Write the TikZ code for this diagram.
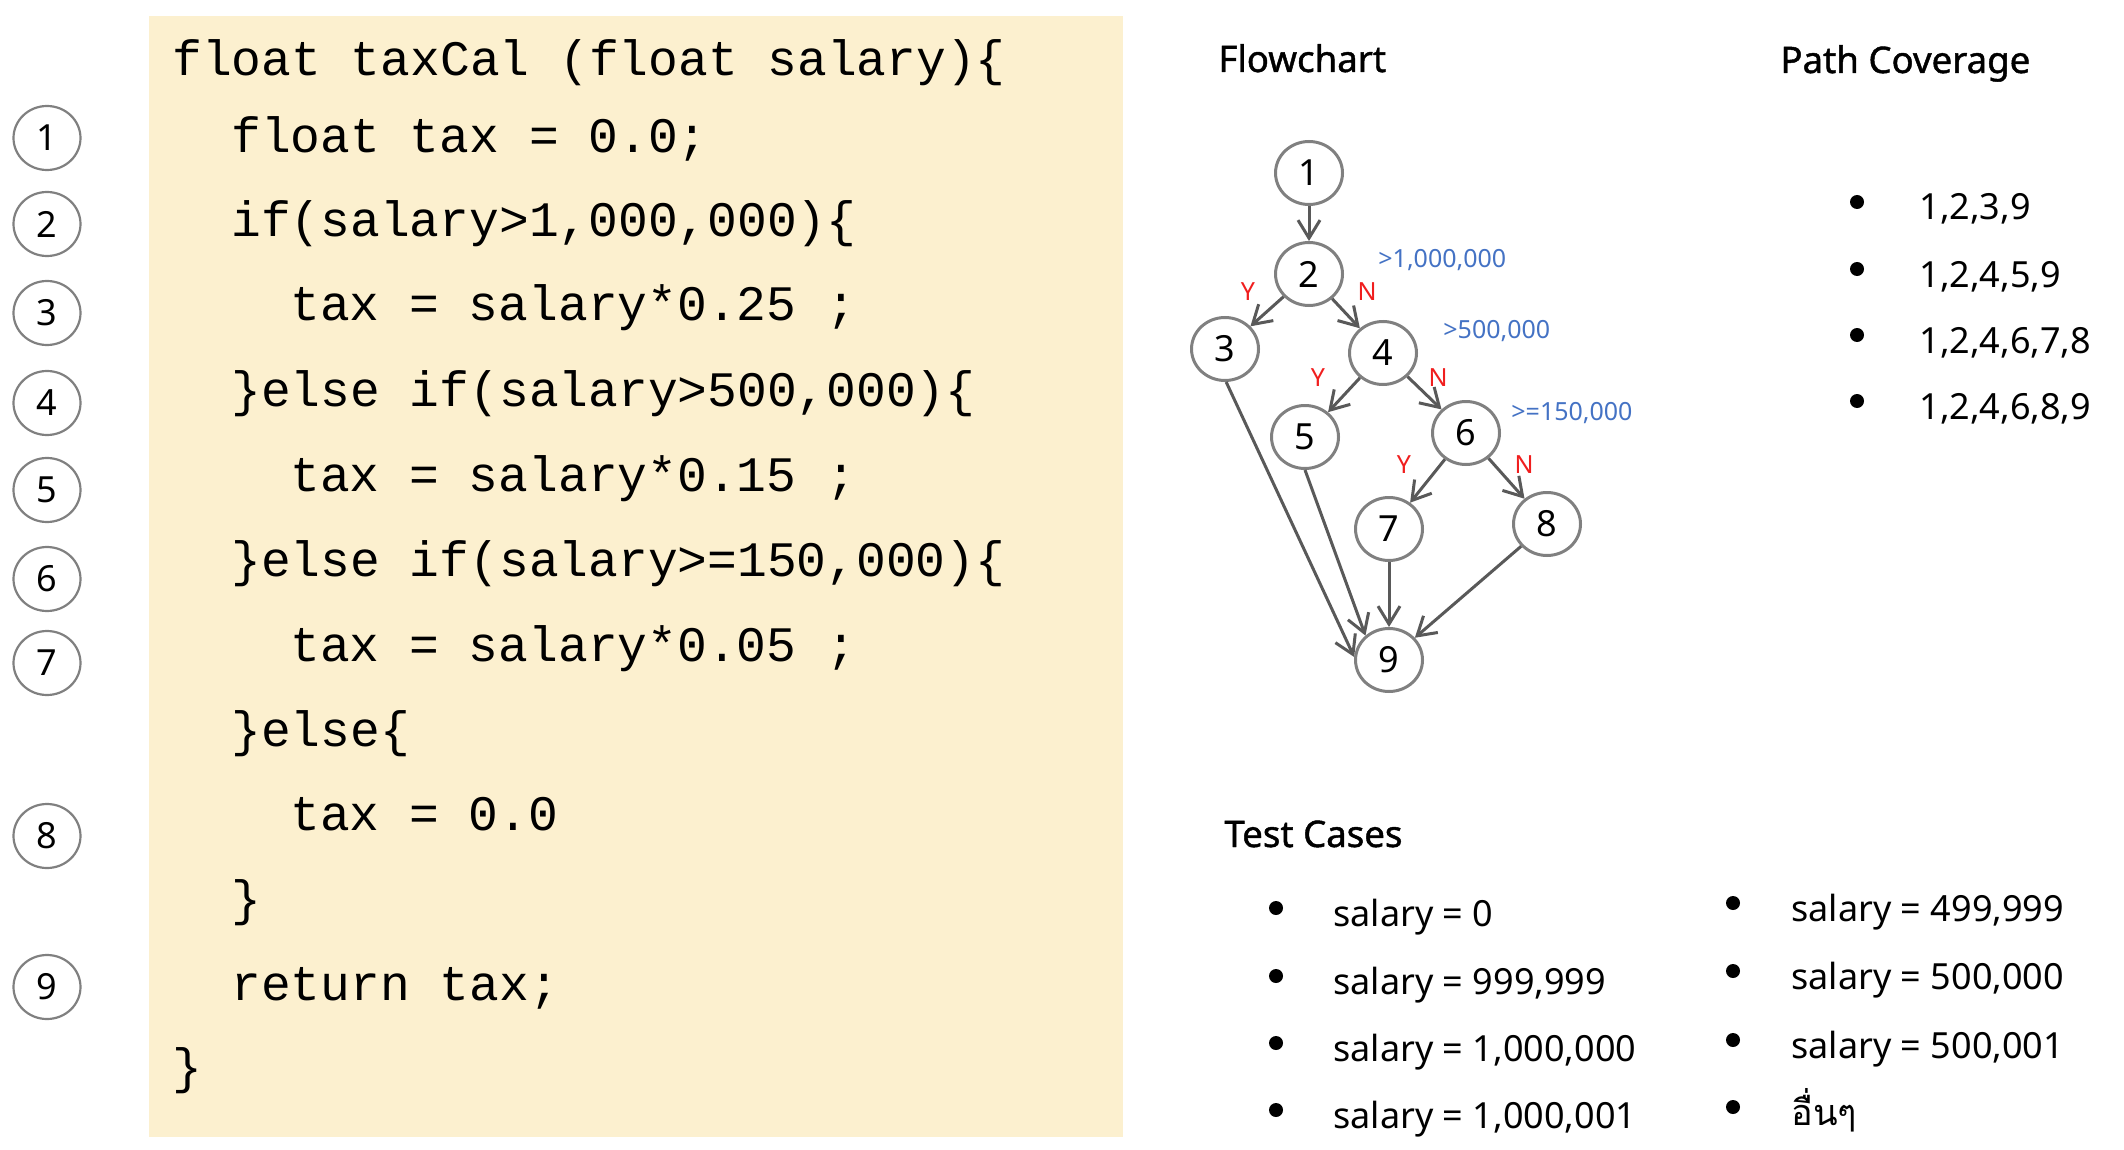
\documentclass[tikz,border=0pt]{standalone}
\usepackage{fontspec}
\setmainfont{Noto Sans}
\newfontfamily\codefont{Liberation Mono}
\newfontfamily\titlefont[FakeBold=1.2]{Noto Sans}
\newfontfamily\thaifont[Script=Thai]{Loma}
\usetikzlibrary{arrows.meta,shapes.geometric}
\definecolor{codebg}{RGB}{252,240,207}
\definecolor{nodegray}{RGB}{128,128,128}
\definecolor{arrowgray}{RGB}{89,89,89}
\definecolor{lblblue}{RGB}{68,114,196}
\definecolor{lblred}{RGB}{240,30,30}
\tikzset{
  codeline/.style={anchor=base west, inner sep=0pt, font=\codefont\fontsize{24.8pt}{24.8pt}\selectfont},
  numcirc/.style={ellipse, draw=nodegray, line width=1.1pt, minimum width=33.5pt, minimum height=32pt, inner sep=0pt, font=\fontsize{18pt}{18pt}\selectfont},
  fcnode/.style={ellipse, draw=nodegray, line width=1.5pt, minimum width=33.5pt, minimum height=31.5pt, inner sep=0pt, font=\fontsize{18pt}{18pt}\selectfont},
  flow/.style={draw=arrowgray, line width=1.5pt, -{Straight Barb[length=9pt,width=11pt]}},
  yn/.style={text=lblred, inner sep=0pt, font=\fontsize{12.5pt}{12.5pt}\selectfont},
  cond/.style={text=lblblue, anchor=base west, inner sep=0pt, font=\fontsize{12.5pt}{12.5pt}\selectfont},
  title/.style={anchor=base west, inner sep=0pt, font=\titlefont\fontsize{18.3pt}{18.3pt}\selectfont},
  item/.style={anchor=base west, inner sep=0pt, font=\fontsize{18pt}{18pt}\selectfont},
  bul/.style={circle, fill=black, minimum size=7pt, inner sep=0pt}
}
\begin{document}
\begin{tikzpicture}[x=0.5pt,y=-0.5pt]
\useasboundingbox (0,0) rectangle (2124,1150);
% code box
\fill[codebg] (149,16) rectangle (1123,1137);
\node[codeline] (l1) at (172,76) {float taxCal (float salary)\{};
\node[codeline] (l2) at (231,153) {float tax = 0.0;};
\node[codeline] (l3) at (231,237) {if(salary>1,000,000)\{};
\node[codeline] (l4) at (290,321) {tax = salary*0.25 ;};
\node[codeline] (l5) at (231,406) {\}else if(salary>500,000)\{};
\node[codeline] (l6) at (290,491) {tax = salary*0.15 ;};
\node[codeline] (l7) at (231,576) {\}else if(salary>=150,000)\{};
\node[codeline] (l8) at (290,661) {tax = salary*0.05 ;};
\node[codeline] (l9) at (231,746) {\}else\{};
\node[codeline] (l10) at (290,830) {tax = 0.0};
\node[codeline] (l11) at (231,915) {\}};
\node[codeline] (l12) at (231,1000) {return tax;};
\node[codeline] (l13) at (172,1083) {\}};
% line number circles
\node[numcirc] (c1) at (47,138) {1};
\node[numcirc] (c2) at (47,224) {2};
\node[numcirc] (c3) at (47,313) {3};
\node[numcirc] (c4) at (47,403) {4};
\node[numcirc] (c5) at (47,490) {5};
\node[numcirc] (c6) at (47,579) {6};
\node[numcirc] (c7) at (47,663) {7};
\node[numcirc] (c8) at (47,836) {8};
\node[numcirc] (c9) at (47,987) {9};
% titles
\node[title] (tflow) at (1218,72) {Flowchart};
\node[title] (tpath) at (1780,73) {Path Coverage};
\node[title] (ttest) at (1224,847) {Test Cases};
% flowchart
\node[fcnode] (n1) at (1309,173) {1};
\node[fcnode] (n2) at (1309,274) {2};
\node[fcnode] (n3) at (1225,349) {3};
\node[fcnode] (n4) at (1383,353) {4};
\node[fcnode] (n5) at (1305,437) {5};
\node[fcnode] (n6) at (1466,433) {6};
\node[fcnode] (n7) at (1389,529) {7};
\node[fcnode] (n8) at (1547,524) {8};
\node[fcnode] (n9) at (1389,660) {9};
\draw[flow] (n1) -- (n2);
\draw[flow] (n2) -- (n3);
\draw[flow] (n2) -- (n4);
\draw[flow] (n4) -- (n5);
\draw[flow] (n4) -- (n6);
\draw[flow] (n6) -- (n7);
\draw[flow] (n6) -- (n8);
\draw[flow] (n3.-88) -- (n9.175);
\draw[flow] (n5.-90) -- (n9.134);
\draw[flow] (n7) -- (n9);
\draw[flow] (n8) -- (n9);
\node[yn] (y23) at (1248,292) {Y};
\node[yn] (n24) at (1367,292) {N};
\node[yn] (y45) at (1318,378) {Y};
\node[yn] (n46) at (1438,378) {N};
\node[yn] (y67) at (1404,465) {Y};
\node[yn] (n68) at (1524,465) {N};
\node[cond] (k2) at (1378,267) {>1,000,000};
\node[cond] (k4) at (1443,338) {>500,000};
\node[cond] (k6) at (1511,420) {>=150,000};
% path coverage
\node[bul] (pb1) at (1857,202) {};
\node[bul] (pb2) at (1857,269) {};
\node[bul] (pb3) at (1857,335) {};
\node[bul] (pb4) at (1857,401) {};
\node[item] (p1) at (1919,220) {1,2,3,9};
\node[item] (p2) at (1919,287) {1,2,4,5,9};
\node[item] (p3) at (1919,353) {1,2,4,6,7,8};
\node[item] (p4) at (1919,419) {1,2,4,6,8,9};
% test cases
\node[bul] (tb1) at (1276,908) {};
\node[bul] (tb2) at (1276,976) {};
\node[bul] (tb3) at (1276,1043) {};
\node[bul] (tb4) at (1276,1110) {};
\node[item] (t1) at (1333,926) {salary = 0};
\node[item] (t2) at (1333,994) {salary = 999,999};
\node[item] (t3) at (1333,1061) {salary = 1,000,000};
\node[item] (t4) at (1333,1128) {salary = 1,000,001};
\node[bul] (ub1) at (1733,903) {};
\node[bul] (ub2) at (1733,971) {};
\node[bul] (ub3) at (1733,1040) {};
\node[bul] (ub4) at (1733,1107) {};
\node[item] (u1) at (1791,921) {salary = 499,999};
\node[item] (u2) at (1791,989) {salary = 500,000};
\node[item] (u3) at (1791,1058) {salary = 500,001};
\node[item] (u4) at (1791,1125) {\thaifont อื่นๆ};
\end{tikzpicture}
\end{document}
